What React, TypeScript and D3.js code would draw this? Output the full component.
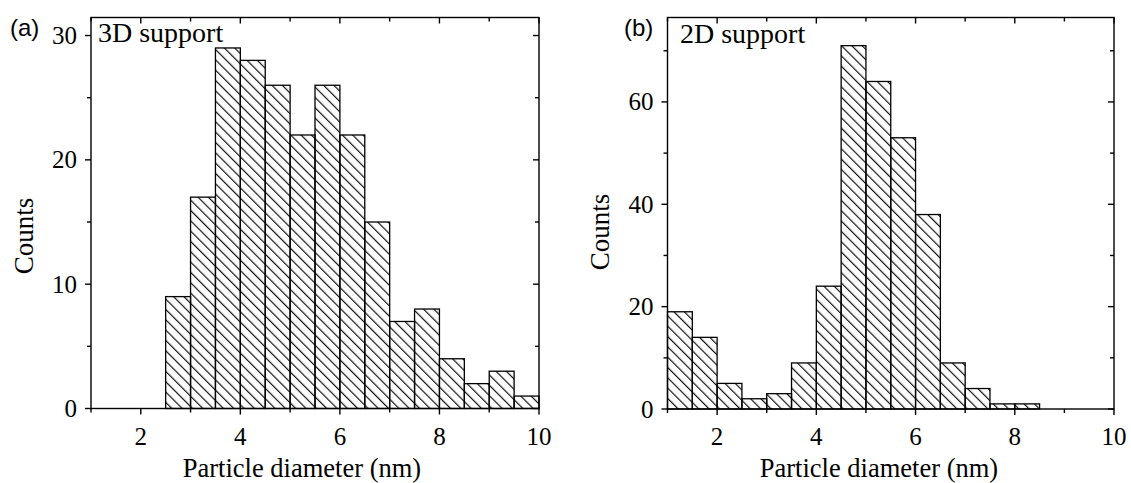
import React from "react";
import * as d3 from "d3";

// ---- data ----
const binWidth = 0.5;
const bins3D = [2.5, 3, 3.5, 4, 4.5, 5, 5.5, 6, 6.5, 7, 7.5, 8, 8.5, 9, 9.5];
const counts3D = [9, 17, 29, 28, 26, 22, 26, 22, 15, 7, 8, 4, 2, 3, 1];
const bins2D = [1, 1.5, 2, 2.5, 3, 3.5, 4, 4.5, 5, 5.5, 6, 6.5, 7, 7.5, 8];
const counts2D = [19, 14, 5, 2, 3, 9, 24, 71, 64, 53, 38, 9, 4, 1, 1];
const xMajor = [2, 4, 6, 8, 10];
const xMinor = [1, 3, 5, 7, 9];
const yMajor3D = [0, 10, 20, 30];
const yMinor3D = [5, 15, 25];
const yMajor2D = [0, 20, 40, 60];
const yMinor2D = [10, 30, 50, 70];

const SERIF = "'Liberation Serif', 'Times New Roman', serif";
const SANS = "'Liberation Sans', Arial, sans-serif";

type PanelProps = {
  id: string;
  left: number;
  right: number;
  top: number;
  bottom: number;
  yMax: number;
  bins: number[];
  counts: number[];
  yMajor: number[];
  yMinor: number[];
  tag: string;
  tagX: number;
  title: string;
  titleX: number;
  titleY: number;
  countsX: number;
  countsY: number;
  xTitleX: number;
};

function Panel(p: PanelProps) {
  const x = d3.scaleLinear().domain([1, 10]).range([p.left, p.right]);
  const y = d3.scaleLinear().domain([0, p.yMax]).range([p.bottom, p.top]);
  const maj = 6;
  const min = 4;
  const sw = 1.4;
  const allX = [...xMajor, ...xMinor];
  const allY = [...p.yMajor, ...p.yMinor];
  return (
    <g>
      <defs>
        <pattern
          id={"hatch" + p.id}
          patternUnits="userSpaceOnUse"
          width={7.3}
          height={20}
          patternTransform="rotate(-45)"
        >
          <line x1={0.6} y1={0} x2={0.6} y2={20} stroke="#000" strokeWidth={1.1} />
        </pattern>
      </defs>
      {p.bins.map((b, i) => (
        <rect
          key={i}
          x={x(b)}
          y={y(p.counts[i])}
          width={x(b + binWidth) - x(b)}
          height={y(0) - y(p.counts[i])}
          fill={`url(#hatch${p.id})`}
          stroke="#000"
          strokeWidth={1.3}
        />
      ))}
      <rect
        x={p.left}
        y={p.top}
        width={p.right - p.left}
        height={p.bottom - p.top}
        fill="none"
        stroke="#000"
        strokeWidth={sw}
      />
      {allX.map((v) => {
        const len = xMajor.includes(v) ? maj : min;
        return (
          <g key={"x" + v}>
            <line x1={x(v)} x2={x(v)} y1={p.bottom} y2={p.bottom + len} stroke="#000" strokeWidth={sw} />
            <line x1={x(v)} x2={x(v)} y1={p.top} y2={p.top + len} stroke="#000" strokeWidth={sw} />
          </g>
        );
      })}
      {allY.map((v) => {
        const len = p.yMajor.includes(v) ? maj : min;
        return (
          <g key={"y" + v}>
            <line x1={p.left - len} x2={p.left} y1={y(v)} y2={y(v)} stroke="#000" strokeWidth={sw} />
            <line x1={p.right - len} x2={p.right} y1={y(v)} y2={y(v)} stroke="#000" strokeWidth={sw} />
          </g>
        );
      })}
      {xMajor.map((v) => (
        <text key={"xl" + v} x={x(v)} y={p.bottom + 36} textAnchor="middle" fontFamily={SERIF} fontSize={25}>
          {v}
        </text>
      ))}
      {p.yMajor.map((v) => (
        <text
          key={"yl" + v}
          x={p.left - 14}
          y={y(v)}
          dy="0.34em"
          textAnchor="end"
          fontFamily={SERIF}
          fontSize={25}
        >
          {v}
        </text>
      ))}
      <text x={p.xTitleX} y={477} textAnchor="middle" fontFamily={SERIF} fontSize={26.5}>
        Particle diameter (nm)
      </text>
      <text
        transform={`translate(${p.countsX},${p.countsY}) rotate(-90)`}
        textAnchor="middle"
        fontFamily={SERIF}
        fontSize={27}
      >
        Counts
      </text>
      <text x={p.tagX} y={36} fontFamily={SANS} fontSize={24}>
        {p.tag}
      </text>
      <text x={p.titleX} y={p.titleY} fontFamily={SERIF} fontSize={28}>
        {p.title}
      </text>
    </g>
  );
}

export default function App() {
  return (
    <svg width={1131} height={483} style={{ position: "absolute", left: 0, top: 0, background: "#fff" }}>
      <rect x={0} y={0} width={1131} height={483} fill="#fff" />
      <Panel
        id="a"
        left={91}
        right={539}
        top={17.5}
        bottom={408.5}
        yMax={31.45}
        bins={bins3D}
        counts={counts3D}
        yMajor={yMajor3D}
        yMinor={yMinor3D}
        tag="(a)"
        tagX={10}
        title="3D support"
        titleX={98}
        titleY={41.5}
        countsX={33}
        countsY={236}
        xTitleX={302}
      />
      <Panel
        id="b"
        left={667.5}
        right={1114}
        top={17.5}
        bottom={409}
        yMax={76.5}
        bins={bins2D}
        counts={counts2D}
        yMajor={yMajor2D}
        yMinor={yMinor2D}
        tag="(b)"
        tagX={624}
        title="2D support"
        titleX={680}
        titleY={43}
        countsX={609}
        countsY={232}
        xTitleX={879}
      />
    </svg>
  );
}
